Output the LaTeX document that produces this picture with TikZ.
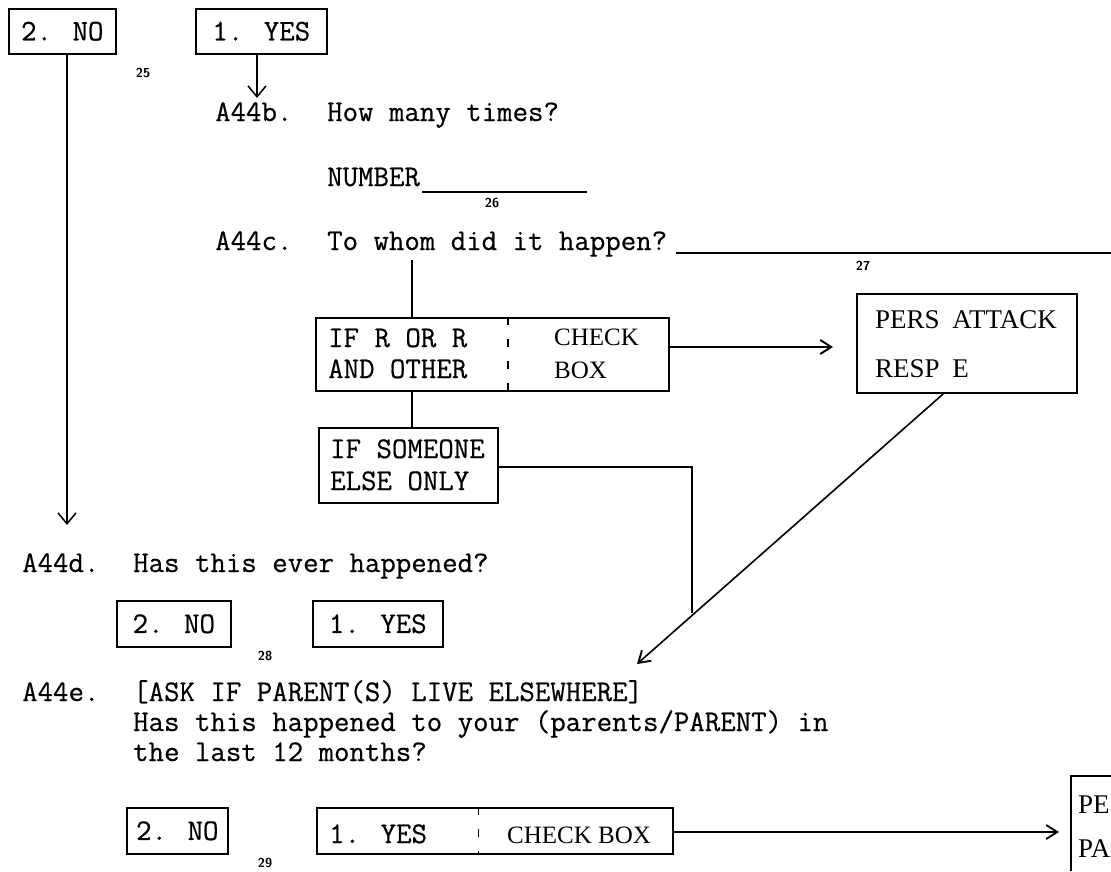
\documentclass[tikz,border=0pt]{standalone}
\usepackage{fontspec}
\newfontfamily\boxserif{Liberation Serif}
\newfontfamily\typew[FakeBold=0.5]{Latin Modern Mono}
\usetikzlibrary{arrows.meta,calc}
\tikzset{
  box/.style={draw, line width=1.6pt, rectangle, inner sep=0pt, anchor=north west,
    font=\fontsize{30}{30}\selectfont\typew},
  tt/.style={font=\fontsize{30}{30}\selectfont\typew, inner sep=0pt, anchor=base west},
  sf/.style={font=\fontsize{25}{25}\selectfont\boxserif, inner sep=0pt, anchor=base west},
  sfl/.style={font=\fontsize{27}{27}\selectfont\boxserif, inner sep=0pt, anchor=base west},
  num/.style={font=\fontsize{13}{13}\selectfont\sffamily\bfseries, inner sep=0pt},
  ln/.style={line width=1.6pt},
  arrv/.style={line width=1.5pt, -{Straight Barb[length=11pt,width=18pt,line width=1.5pt]}},
  arrh/.style={line width=1.6pt, -{Straight Barb[length=11pt,width=14pt,line width=1.9pt]}},
  divider/.style={line width=1.2pt, dash pattern=on 8pt off 14pt}
}
\begin{document}
\begin{tikzpicture}[x=1pt,y=-1pt]
\useasboundingbox (0,0) rectangle (1111,871);
\clip (0,0) rectangle (1111,871);

% top answer boxes
\node[box, minimum width=107, minimum height=45] (no1) at (8,8) {2. NO};
\node[box, minimum width=131, minimum height=45] (yes1) at (195,8) {1. YES};
\node[num] (n25) at (143,73) {25};

% A44b
\node[tt] (a44b) at (215,121) {A44b.};
\node[tt] (qb) at (327,121) {How many times?};
\node[tt] (numb) at (327,186) {NUMBER};
\coordinate (ulb1) at (422,192);
\coordinate (ulb2) at (587,192);
\draw[line width=1.3pt] (ulb1) -- (ulb2);
\node[num] (n26) at (492,203) {26};

% A44c
\node[tt] (a44c) at (215,250) {A44c.};
\node[tt] (qc) at (327,250) {To whom did it happen?};
\coordinate (ulc1) at (676,253);
\coordinate (ulc2) at (1111,253);
\draw[line width=1.3pt] (ulc1) -- (ulc2);
\node[num] (n27) at (863,266) {27};

% IF R OR R box
\node[box, minimum width=353, minimum height=73] (ifr) at (315,317) {};
\draw[divider] ($(ifr.north west)!0.544!(ifr.north east)$) -- ($(ifr.south west)!0.544!(ifr.south east)$);
\node[tt] (ifr1) at (328,347) {IF R OR R};
\node[tt] (ifr2) at (328,378) {AND OTHER};
\node[sf] (chk1) at (554,345) {CHECK};
\node[sf] (chk2) at (554,378) {BOX};

% PERS ATTACK box
\node[box, minimum width=220, minimum height=99] (pers) at (856,293) {};
\node[sfl] (pers1) at (875,328) {PERS\hspace{6pt} ATTACK};
\node[sfl] (pers2) at (875,377) {RESP\hspace{6pt} E};

% IF SOMEONE box
\node[box, minimum width=179, minimum height=75] (ifs) at (318,427) {};
\node[tt] (ifs1) at (330,458) {IF SOMEONE};
\node[tt] (ifs2) at (330,490) {ELSE ONLY};

% A44d
\node[tt] (a44d) at (22,572) {A44d.};
\node[tt] (qd) at (133,572) {Has this ever happened?};
\node[box, minimum width=114, minimum height=46] (no2) at (116,600) {2. NO};
\node[box, minimum width=130, minimum height=46] (yes2) at (312,600) {1. YES};
\node[num] (n28) at (265,656) {28};

% A44e
\node[tt] (a44e) at (22,701) {A44e.};
\node[tt] (qe1) at (133,701) {[ASK IF PARENT(S) LIVE ELSEWHERE]};
\node[tt] (qe2) at (133,731) {Has this happened to your (parents/PARENT) in};
\node[tt] (qe3) at (133,761) {the last 12 months?};
\node[box, minimum width=101, minimum height=46] (no3) at (126,807) {2. NO};
\node[box, minimum width=356, minimum height=46] (yes3) at (316,807) {};
\draw[divider] ($(yes3.north west)!0.455!(yes3.north east)$) -- ($(yes3.south west)!0.455!(yes3.south east)$);
\node[tt] (yes3a) at (329,843) {1. YES};
\node[sf] (yes3b) at (507,843) {CHECK BOX};
\node[num] (n29) at (265,863) {29};

% partial PERS box at bottom right
\coordinate (peNW) at (1071,776);
\coordinate (peNE) at (1111,776);
\coordinate (peSW) at (1071,871);
\draw[ln] (peNE) -- (peNW) -- (peSW);
\node[sfl] (pe1) at (1078,813) {PE};
\node[sfl] (pe2) at (1078,857) {PA};

% connectors
\coordinate (noTip) at (67,525);
\draw[arrv] (no1.south -| noTip) -- (noTip);
\coordinate (yesTip) at (257,98);
\draw[arrv] (yes1.south -| yesTip) -- (yesTip);
\coordinate (cdrop) at (412,260);
\draw[ln] (cdrop) -- (ifr.north -| cdrop);
\draw[ln] (ifr.south -| cdrop) -- (ifs.north -| cdrop);
\coordinate (arrY) at (0,347);
\draw[arrh, shorten >=23pt] (ifr.east |- arrY) -- (pers.west |- arrY);
\coordinate (junc) at (692,613);
\coordinate (ifsY) at (0,467);
\draw[ln] (ifs.east |- ifsY) -| (junc);
\coordinate (diagTip) at (637,664);
\draw[arrh] ($(pers.south west)!0.395!(pers.south east)$) -- (diagTip);
\coordinate (arrY2) at (0,832);
\draw[arrh, shorten >=12pt] (yes3.east |- arrY2) -- (peSW |- arrY2);
\end{tikzpicture}
\end{document}
